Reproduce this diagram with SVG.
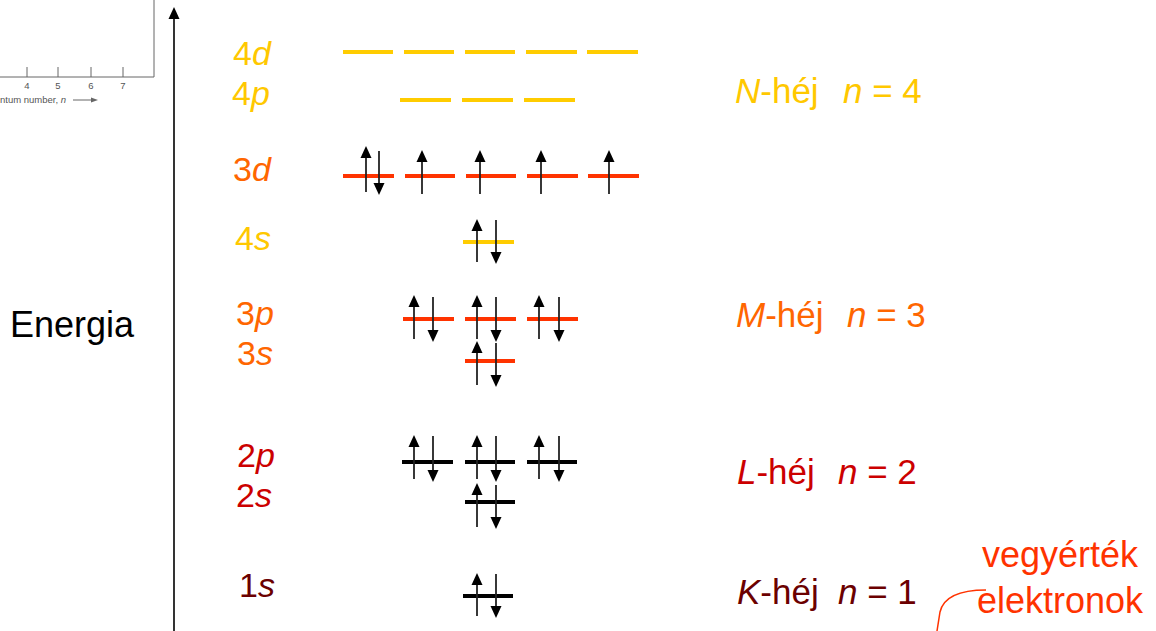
<svg xmlns="http://www.w3.org/2000/svg" width="1156" height="631" viewBox="0 0 1156 631">
  <defs>
    <style>
      text { font-family: "Liberation Sans", Arial, sans-serif; }
      .big { font-size: 34px; }
      .shell { font-size: 35px; }
      .it { font-style: italic; }
      .c4 { fill: #FFC800; }
      .c3 { fill: #FF6600; }
      .c2 { fill: #CC0000; }
      .c1 { fill: #6B0000; }
      .lv { stroke-width: 4; fill: none; }
      .y { stroke: #FFCC00; }
      .r { stroke: #FF3300; }
      .k { stroke: #000000; }
      .sp { stroke: #222; stroke-width: 1.8; fill: none; }
      .chart { stroke: #666; stroke-width: 1; fill: none; }
      .chartText { font-size: 9.5px; fill: #555; }
    </style>
  </defs>

  <!-- corner of the quantum-number chart -->
  <g id="chart-corner">
    <path class="chart" d="M0,77 H154 V0"/>
    <path class="chart" d="M27,77 V67 M58,77 V67 M91,77 V67 M123,77 V67"/>
    <text class="chartText" x="27" y="89" text-anchor="middle">4</text>
    <text class="chartText" x="58" y="89" text-anchor="middle">5</text>
    <text class="chartText" x="91" y="89" text-anchor="middle">6</text>
    <text class="chartText" x="123" y="89" text-anchor="middle">7</text>
    <text class="chartText" x="0" y="103">ntum number, <tspan class="it">n</tspan></text>
    <path class="chart" d="M73,100 H94"/>
    <path d="M91,97.5 L98,100 L91,102.5 z" fill="#666"/>
  </g>

  <!-- energy axis -->
  <g id="axis">
    <line x1="174" y1="631" x2="174" y2="18" stroke="#000" stroke-width="1.6"/>
    <path d="M174,7 L179.5,19 L168.5,19 z" fill="#000"/>
    <text x="10" y="337" style="font-size:36px" fill="#000">Energia</text>
  </g>

  <!-- subshell labels -->
  <g id="labels">
    <text class="big c4" x="233" y="65">4<tspan class="it">d</tspan></text>
    <text class="big c4" x="232" y="105">4<tspan class="it">p</tspan></text>
    <text class="big c3" x="233" y="181">3<tspan class="it">d</tspan></text>
    <text class="big c4" x="235" y="250">4<tspan class="it">s</tspan></text>
    <text class="big c3" x="236" y="325">3<tspan class="it">p</tspan></text>
    <text class="big c3" x="237" y="365">3<tspan class="it">s</tspan></text>
    <text class="big c2" x="237" y="467">2<tspan class="it">p</tspan></text>
    <text class="big c2" x="236" y="507">2<tspan class="it">s</tspan></text>
    <text class="big c1" x="239" y="597">1<tspan class="it">s</tspan></text>
  </g>

  <!-- shell labels -->
  <g id="shells">
    <text class="shell c4" x="735" y="103"><tspan class="it">N</tspan>-héj<tspan class="it" x="843">n</tspan> = 4</text>
    <text class="shell c3" x="736" y="327"><tspan class="it">M</tspan>-héj<tspan class="it" x="847">n</tspan> = 3</text>
    <text class="shell c2" x="737" y="484"><tspan class="it">L</tspan>-héj<tspan class="it" x="838">n</tspan> = 2</text>
    <text class="shell c1" x="737" y="604"><tspan class="it">K</tspan>-héj<tspan class="it" x="838">n</tspan> = 1</text>
  </g>

  <!-- valence electron note -->
  <g id="valence">
    <text x="1060" y="567" text-anchor="middle" fill="#FF3300" style="font-size:36px">vegyérték</text>
    <text x="1060" y="613" text-anchor="middle" fill="#FF3300" style="font-size:36px">elektronok</text>
    <path d="M986,590 C962,590 944,595 940,612 L937,631" stroke="#FF3300" stroke-width="1.5" fill="none"/>
  </g>

  <!-- orbital levels -->
  <g id="levels">
    <path class="lv y" d="M343,52 h50 M404,52 h50 M465,52 h50 M526,52 h51 M587,52 h51"/>
    <path class="lv y" d="M400,100 h51 M462,100 h51 M524,100 h51"/>
    <path class="lv r" d="M343,176 h51 M405,176 h50 M466,176 h50 M527,176 h51 M588,176 h51"/>
    <path class="lv y" d="M463,242 h51"/>
    <path class="lv r" d="M403,319 h51 M465,319 h51 M527,319 h51"/>
    <path class="lv r" d="M465,361 h50"/>
    <path class="lv k" d="M402,462 h51 M465,462 h50 M527,462 h50"/>
    <path class="lv k" d="M465,502 h50"/>
    <path class="lv k" d="M463,596 h50"/>
  </g>

  <!-- electron spins -->
  <g id="electrons">
    <!-- 3d -->
    <line class="sp" x1="366" y1="192" x2="366" y2="156"/><path d="M366,146 L371.5,158 L360.5,158 z"/>
    <line class="sp" x1="379" y1="151" x2="379" y2="184"/><path d="M379,195 L384.5,183 L373.5,183 z"/>
    <line class="sp" x1="422" y1="194" x2="422" y2="160"/><path d="M422,150 L427.5,162 L416.5,162 z"/>
    <line class="sp" x1="480" y1="194" x2="480" y2="160"/><path d="M480,150 L485.5,162 L474.5,162 z"/>
    <line class="sp" x1="541" y1="194" x2="541" y2="160"/><path d="M541,150 L546.5,162 L535.5,162 z"/>
    <line class="sp" x1="609" y1="194" x2="609" y2="160"/><path d="M609,150 L614.5,162 L603.5,162 z"/>
    <!-- 4s -->
    <line class="sp" x1="477" y1="262" x2="477" y2="229"/><path d="M477,219 L482.5,231 L471.5,231 z"/>
    <line class="sp" x1="496" y1="220" x2="496" y2="253"/><path d="M496,264 L501.5,252 L490.5,252 z"/>
    <!-- 3p -->
    <line class="sp" x1="414" y1="339" x2="414" y2="305"/><path d="M414,295 L419.5,307 L408.5,307 z"/>
    <line class="sp" x1="433" y1="297" x2="433" y2="331"/><path d="M433,342 L438.5,330 L427.5,330 z"/>
    <line class="sp" x1="477" y1="339" x2="477" y2="305"/><path d="M477,295 L482.5,307 L471.5,307 z"/>
    <line class="sp" x1="496" y1="297" x2="496" y2="331"/><path d="M496,342 L501.5,330 L490.5,330 z"/>
    <line class="sp" x1="539" y1="339" x2="539" y2="305"/><path d="M539,295 L544.5,307 L533.5,307 z"/>
    <line class="sp" x1="559" y1="297" x2="559" y2="331"/><path d="M559,342 L564.5,330 L553.5,330 z"/>
    <!-- 3s -->
    <line class="sp" x1="477" y1="385" x2="477" y2="351"/><path d="M477,341 L482.5,353 L471.5,353 z"/>
    <line class="sp" x1="496" y1="343" x2="496" y2="376"/><path d="M496,387 L501.5,375 L490.5,375 z"/>
    <!-- 2p -->
    <line class="sp" x1="414" y1="479" x2="414" y2="445"/><path d="M414,435 L419.5,447 L408.5,447 z"/>
    <line class="sp" x1="433" y1="436" x2="433" y2="471"/><path d="M433,482 L438.5,470 L427.5,470 z"/>
    <line class="sp" x1="477" y1="479" x2="477" y2="445"/><path d="M477,435 L482.5,447 L471.5,447 z"/>
    <line class="sp" x1="496" y1="436" x2="496" y2="471"/><path d="M496,482 L501.5,470 L490.5,470 z"/>
    <line class="sp" x1="539" y1="479" x2="539" y2="445"/><path d="M539,435 L544.5,447 L533.5,447 z"/>
    <line class="sp" x1="559" y1="436" x2="559" y2="471"/><path d="M559,482 L564.5,470 L553.5,470 z"/>
    <!-- 2s -->
    <line class="sp" x1="477" y1="527" x2="477" y2="493"/><path d="M477,483 L482.5,495 L471.5,495 z"/>
    <line class="sp" x1="496" y1="485" x2="496" y2="518"/><path d="M496,529 L501.5,517 L490.5,517 z"/>
    <!-- 1s -->
    <line class="sp" x1="477" y1="616" x2="477" y2="583"/><path d="M477,573 L482.5,585 L471.5,585 z"/>
    <line class="sp" x1="496" y1="574" x2="496" y2="607"/><path d="M496,618 L501.5,606 L490.5,606 z"/>
  </g>
</svg>
